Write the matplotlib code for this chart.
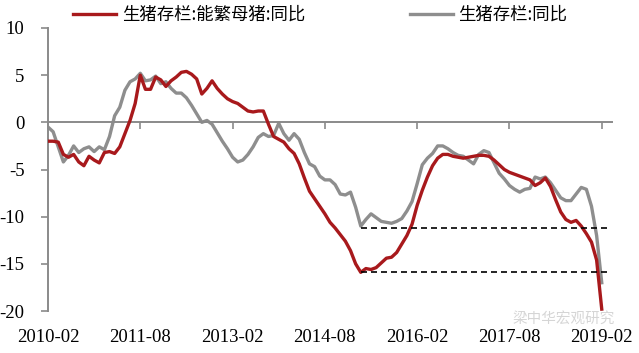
import matplotlib
matplotlib.use('Agg')
import matplotlib.pyplot as plt

plt.rcParams['font.family'] = ['Liberation Serif', 'Noto Sans CJK SC', 'DejaVu Sans']
plt.rcParams['axes.unicode_minus'] = False

# 月度数据, 2010-02 ~ 2019-02
sows_yoy = [-2.0, -2.0, -2.1, -3.4, -3.7, -3.4, -4.2, -4.6, -3.6, -4.0,
            -4.3, -3.2, -3.1, -3.3, -2.6, -1.2, 0.2, 2.0, 5.0, 3.5,
            3.5, 4.8, 4.5, 3.8, 4.4, 4.8, 5.3, 5.4, 5.1, 4.6,
            3.0, 3.6, 4.4, 3.6, 3.0, 2.5, 2.2, 2.0, 1.6, 1.2,
            1.1, 1.2, 1.2, -0.2, -1.5, -1.8, -2.1, -2.8, -3.3, -4.4,
            -5.9, -7.3, -8.1, -8.9, -9.7, -10.6, -11.2, -11.9, -12.6, -13.6,
            -15.0, -15.9, -15.5, -15.6, -15.4, -14.9, -14.4, -14.3, -13.8, -12.9,
            -12.0, -10.8, -8.8, -7.2, -5.8, -4.6, -3.8, -3.4, -3.4, -3.6,
            -3.7, -3.8, -3.7, -3.6, -3.5, -3.5, -3.6, -4.0, -4.5, -5.0,
            -5.3, -5.5, -5.7, -5.9, -6.1, -6.7, -6.4, -5.9, -6.8, -8.2,
            -9.5, -10.3, -10.6, -10.4, -11.0, -11.8, -12.7, -14.6, -19.8]

hogs_yoy = [-0.5, -1.0, -2.6, -4.2, -3.5, -2.5, -3.2, -2.8, -2.6, -3.1,
            -2.6, -2.9, -1.5, 0.7, 1.6, 3.4, 4.3, 4.6, 5.2, 4.4,
            4.5, 4.9, 4.1, 4.3, 3.6, 3.1, 3.1, 2.6, 1.8, 0.9,
            0.0, 0.2, -0.2, -1.1, -2.0, -2.8, -3.7, -4.2, -4.0, -3.4,
            -2.6, -1.6, -1.2, -1.5, -1.4, -0.1, -1.2, -1.9, -1.2, -1.8,
            -3.2, -4.4, -4.7, -5.7, -6.1, -6.1, -6.6, -7.6, -7.7, -7.4,
            -9.0, -11.0, -10.3, -9.7, -10.1, -10.5, -10.6, -10.7, -10.5, -10.2,
            -9.4, -8.4, -6.5, -4.5, -3.8, -3.3, -2.5, -2.5, -2.8, -3.2,
            -3.5, -3.6, -4.0, -4.4, -3.4, -3.0, -3.2, -4.3, -5.4, -6.0,
            -6.7, -7.1, -7.4, -7.1, -7.0, -5.8, -6.0, -5.8, -6.4, -7.2,
            -8.0, -8.3, -8.3, -7.6, -6.9, -7.1, -8.9, -12.0, -17.0]

tick_pos = [0, 18, 36, 54, 72, 90, 108]
tick_labels = ['2010-02', '2011-08', '2013-02', '2014-08', '2016-02', '2017-08', '2019-02']

# 参考虚线: 水平值, 起止月序号
ref_levels = [-11.2, -15.9]
ref_start = [61, 61]
ref_end = [109.5, 109.0]

red = '#A8191C'
grey = '#8E8E8E'
axis_c = '#8A8A8A'

months = list(range(len(sows_yoy)))

fig = plt.figure(figsize=(6.39, 3.53), dpi=100)
ax = fig.add_axes([48/639, 42/353, 564/639, 283/353])

ax.plot(months, sows_yoy, color=red, lw=2.4, label='生猪存栏:能繁母猪:同比', zorder=3)
ax.plot(months, hogs_yoy, color=grey, lw=2.4, label='生猪存栏:同比', zorder=2)

for lv, s, e in zip(ref_levels, ref_start, ref_end):
    ax.hlines(lv, s, e, colors='black', linestyles=(0, (3.6, 2.4)), lw=1.2, zorder=4)

ax.set_xlim(0, 110)
ax.set_ylim(-20, 10)
ax.set_yticks([10, 5, 0, -5, -10, -15, -20])

for s in ['top', 'right']:
    ax.spines[s].set_visible(False)
ax.spines['left'].set_color(axis_c)
ax.spines['left'].set_linewidth(1.4)
ax.spines['bottom'].set_position(('data', 0))
ax.spines['bottom'].set_color(axis_c)
ax.spines['bottom'].set_linewidth(1.4)

ax.set_xticks(tick_pos)
ax.set_xticklabels([])
ax.tick_params(axis='x', direction='out', length=5, width=1.2, color=axis_c)
ax.tick_params(axis='y', direction='out', length=5, width=1.2, color=axis_c,
               pad=12, labelsize=13.5)

sec = ax.secondary_xaxis('bottom')
sec.spines['bottom'].set_visible(False)
sec.set_xticks(tick_pos)
sec.set_xticklabels(tick_labels)
sec.tick_params(length=0, pad=13, labelsize=13.5)

leg = fig.legend(loc='center left', bbox_to_anchor=(73/639, 1 - 15/353), ncol=2,
                 frameon=False, borderpad=0, borderaxespad=0, handlelength=2.5,
                 handletextpad=0.3, columnspacing=6.05,
                 prop={'family': ['Noto Sans CJK SC'], 'size': 12.5})

# 水印
fig.text(513/639, 1 - 319/353, '梁中华宏观研究', color='#C4C4C4', alpha=0.7,
         fontsize=10.5, family=['Noto Sans CJK SC'], ha='left', va='center')

fig.savefig('out.png', dpi=100)
